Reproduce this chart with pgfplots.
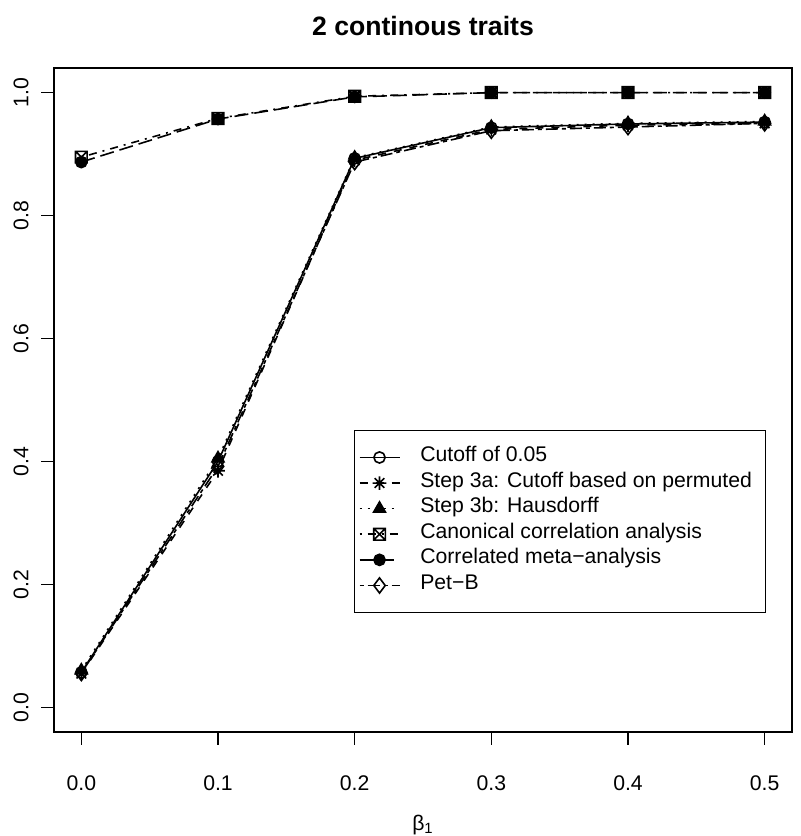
\documentclass[border=0pt]{standalone}
\usepackage{fontspec}
\setmainfont{Liberation Sans}
\usepackage{pgfplots}
\pgfplotsset{compat=1.18}

\pgfdeclareplotmark{rstar}{%
 \pgfpathmoveto{\pgfqpoint{-\pgfplotmarksize}{0pt}}\pgfpathlineto{\pgfqpoint{\pgfplotmarksize}{0pt}}%
 \pgfpathmoveto{\pgfqpoint{0pt}{-\pgfplotmarksize}}\pgfpathlineto{\pgfqpoint{0pt}{\pgfplotmarksize}}%
 \pgfpathmoveto{\pgfqpoint{-0.7071\pgfplotmarksize}{-0.7071\pgfplotmarksize}}\pgfpathlineto{\pgfqpoint{0.7071\pgfplotmarksize}{0.7071\pgfplotmarksize}}%
 \pgfpathmoveto{\pgfqpoint{-0.7071\pgfplotmarksize}{0.7071\pgfplotmarksize}}\pgfpathlineto{\pgfqpoint{0.7071\pgfplotmarksize}{-0.7071\pgfplotmarksize}}%
 \pgfusepathqstroke}
\pgfdeclareplotmark{boxx}{%
 \pgfpathrectangle{\pgfqpoint{-\pgfplotmarksize}{-\pgfplotmarksize}}{\pgfqpoint{2\pgfplotmarksize}{2\pgfplotmarksize}}%
 \pgfpathmoveto{\pgfqpoint{-\pgfplotmarksize}{-\pgfplotmarksize}}\pgfpathlineto{\pgfqpoint{\pgfplotmarksize}{\pgfplotmarksize}}%
 \pgfpathmoveto{\pgfqpoint{-\pgfplotmarksize}{\pgfplotmarksize}}\pgfpathlineto{\pgfqpoint{\pgfplotmarksize}{-\pgfplotmarksize}}%
 \pgfusepathqstroke}

\begin{document}
\fontsize{10.6}{12.7}\selectfont
\begin{tikzpicture}
\path[use as bounding box] (-27pt,-52pt) rectangle (373pt,366pt);
\begin{axis}[
  at={(0,0)}, anchor=south west,
  scale only axis, width=369pt, height=332pt,
  xmin=-0.02, xmax=0.52, ymin=-0.04, ymax=1.04,
  xtick={0,0.1,0.2,0.3,0.4,0.5},
  xticklabels={0.0,0.1,0.2,0.3,0.4,0.5},
  ytick={0,0.2,0.4,0.6,0.8,1.0},
  yticklabels={0.0,0.2,0.4,0.6,0.8,1.0},
  tick pos=left, tick align=outside,
  major tick length=6.4pt,
  tick style={black, line width=0.6pt},
  axis line style={line width=0.6pt},
  xticklabel style={anchor=center, yshift=-19pt},
  yticklabel style={rotate=90, anchor=center, yshift=10pt},
  title={2 continous traits},
  title style={at={(0.5,1)}, anchor=center, yshift=15pt, font=\bfseries\fontsize{13.3}{16}\selectfont},
  xlabel={β\textsubscript{1}},
  xlabel style={at={(0.5,0)}, anchor=center, yshift=-46.5pt},
  every axis plot/.append style={line width=0.8pt, black},
  legend style={at={(axis cs:0.1996,0.4511)}, anchor=north west, draw=black, line width=0.6pt,
    inner xsep=2pt, inner ysep=7pt, row sep=0pt,
    nodes={inner xsep=0pt, inner ysep=0pt, text height=8.4pt, text depth=4.4pt, anchor=west},
    /tikz/every odd column/.append style={column sep=10pt}},
  legend cell align=left,
  legend image code/.code={\draw[mark repeat=2,mark phase=2] plot coordinates {(0pt,0pt) (10pt,0pt) (20pt,0pt)};},
]
\addplot[solid, mark=o, mark size=2.8pt, mark options={solid}] coordinates {
 (0,0.057) (0.1,0.400) (0.2,0.893) (0.3,0.943) (0.4,0.949) (0.5,0.952)};
\addlegendentry{Cutoff of 0.05}
\addplot[dash pattern=on 4pt off 4pt, mark=rstar, mark size=3.4pt, mark options={solid}] coordinates {
 (0,0.055) (0.1,0.385) (0.2,0.890) (0.3,0.940) (0.4,0.947) (0.5,0.950)};
\addlegendentry{Step 3a: Cutoff based on permuted\rule{5pt}{0pt}}
\addplot[dash pattern=on 1pt off 3pt, mark=triangle*, mark size=3.4pt, mark options={solid, fill=black}] coordinates {
 (0,0.060) (0.1,0.405) (0.2,0.894) (0.3,0.944) (0.4,0.950) (0.5,0.953)};
\addlegendentry{Step 3b: Hausdorff}
\addplot[dash pattern=on 1pt off 3pt on 4pt off 3pt, mark=boxx, mark size=2.9pt, mark options={solid}] coordinates {
 (0,0.895) (0.1,0.958) (0.2,0.994) (0.3,1.0) (0.4,1.0) (0.5,1.0)};
\addlegendentry{Canonical correlation analysis}
\addplot[dash pattern=on 7pt off 3pt, mark=*, mark size=2.8pt, mark options={solid, fill=black}] coordinates {
 (0,0.887) (0.1,0.957) (0.2,0.993) (0.3,1.0) (0.4,1.0) (0.5,1.0)};
\addlegendentry{Correlated meta−analysis}
\addplot[dash pattern=on 2pt off 2pt on 6pt off 2pt, mark=diamond, mark size=3.8pt, mark options={solid}] coordinates {
 (0,0.056) (0.1,0.392) (0.2,0.887) (0.3,0.938) (0.4,0.944) (0.5,0.950)};
\addlegendentry{Pet−B}
\end{axis}
\end{tikzpicture}
\end{document}
